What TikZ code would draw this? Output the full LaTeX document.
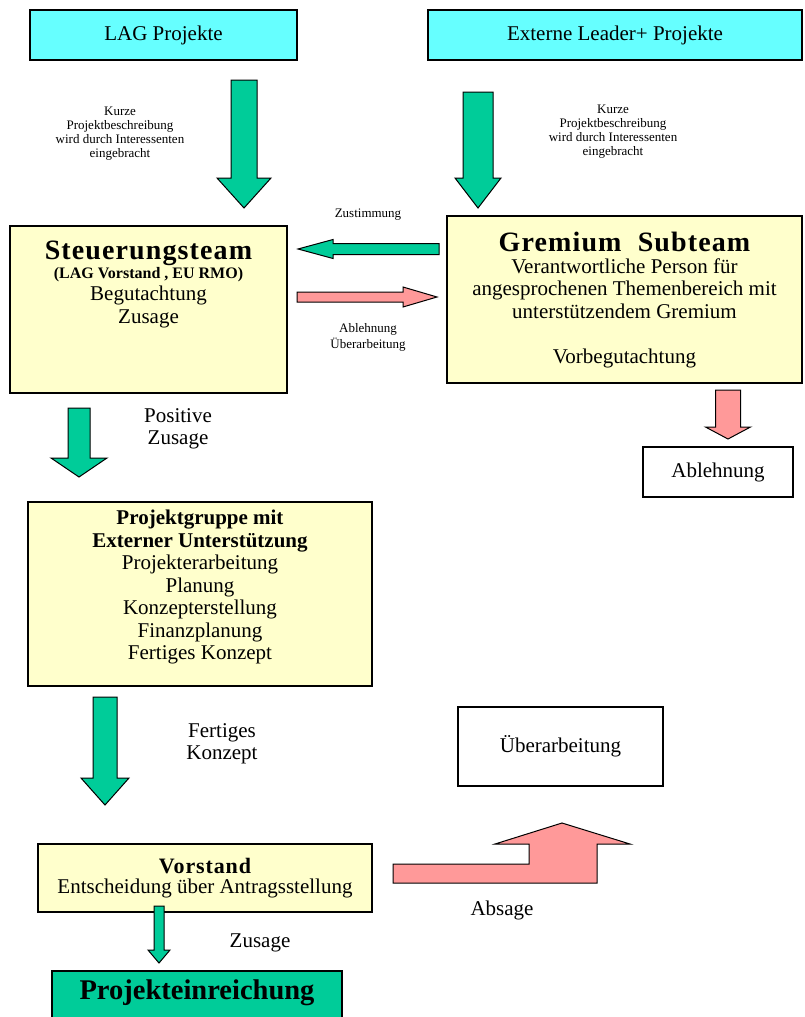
\documentclass[tikz,border=0pt]{standalone}
\usepackage{fontspec}
\setmainfont{Liberation Serif}
\usepackage{xcolor}
\usepackage{tikz}

\definecolor{lagcyan}{HTML}{66FFFF}
\definecolor{boxyellow}{HTML}{FFFFCC}
\definecolor{arrgreen}{HTML}{00CC99}
\definecolor{arrpink}{HTML}{FF9999}

\newcommand{\bodyfont}{\fontsize{21}{22.5}\selectfont}
\newcommand{\smallfont}{\fontsize{13}{14}\selectfont}
\newcommand{\headfont}{\fontsize{28}{30}\selectfont\bfseries\addfontfeature{LetterSpace=4}}

% block arrows: colour, centre, start, head base, tip, shaft half width, head half width
\newcommand{\vblock}[7]{\filldraw[fill=#1, draw=black, line width=1pt] (#2-#6,#3) -- (#2+#6,#3) -- (#2+#6,#4) -- (#2+#7,#4) -- (#2,#5) -- (#2-#7,#4) -- (#2-#6,#4) -- cycle;}
\newcommand{\hblock}[7]{\filldraw[fill=#1, draw=black, line width=1pt] (#3,#2-#6) -- (#4,#2-#6) -- (#4,#2-#7) -- (#5,#2) -- (#4,#2+#7) -- (#4,#2+#6) -- (#3,#2+#6) -- cycle;}

\begin{document}
\begin{tikzpicture}[
      x=1pt, y=-1pt,
      box/.style={draw, line width=1.2pt, inner sep=0pt, align=center, font=\bodyfont},
      txt/.style={inner sep=0pt, align=center, font=\bodyfont},
      note/.style={inner sep=0pt, align=center, font=\smallfont}
    ]
      \fill[white] (0,0) rectangle (804,1017);
      \useasboundingbox (0,0) rectangle (804,1017);

      % sources
      \node[box, fill=lagcyan, minimum width=267, minimum height=50] (lag) at (163.5,35) {LAG Projekte};
      \node[box, fill=lagcyan, minimum width=374, minimum height=50] (ext) at (615,35) {Externe Leader+ Projekte};
      \node[note] (kurzeL) at (120,134) {Kurze\\Projektbeschreibung\\wird durch Interessenten\\eingebracht};
      \node[note] (kurzeR) at (613,132) {Kurze\\Projektbeschreibung\\wird durch Interessenten\\eingebracht};
      \vblock{arrgreen}{244}{80}{178}{208}{13}{27}
      \vblock{arrgreen}{478}{92}{178}{208}{15}{23}

      % review
      \node[box, fill=boxyellow, minimum width=277, minimum height=167] (steuer) at (148.5,309.5) {};
      \node[txt, anchor=north] (steuertxt) at (148.5,241) {{\headfont Steuerungsteam}\\[-4pt]{\fontsize{16}{18}\selectfont\bfseries (LAG Vorstand , EU RMO)}\\Begutachtung\\Zusage};
      \node[box, fill=boxyellow, minimum width=355, minimum height=167] (gremium) at (624.5,299.5) {};
      \node[txt, anchor=north] (gremiumtxt) at (624.5,232) {{\headfont Gremium\ \ Subteam}\\[-1pt]Verantwortliche Person für\\angesprochenen Themenbereich mit\\unterstützendem Gremium\\[23pt]Vorbegutachtung};
      \hblock{arrgreen}{249}{439}{333}{298}{5.5}{9.5}
      \hblock{arrpink}{297}{297}{403}{437}{5}{10}
      \node[note] (zust) at (368,215) {Zustimmung};
      \node[note] (ablueb) at (368,337) {Ablehnung\\[2pt]Überarbeitung};
      \vblock{arrpink}{728}{390}{427}{439}{12.5}{22.5}
      \node[box, minimum width=150, minimum height=50] (ablehnung) at (718,472) {Ablehnung};

      % project work
      \vblock{arrgreen}{79}{408}{458}{477}{11}{28}
      \node[txt] (posz) at (178,429) {Positive\\Zusage};
      \node[box, fill=boxyellow, minimum width=344, minimum height=184] (gruppe) at (200,594) {};
      \node[txt, anchor=north] (gruppetxt) at (200,510) {\textbf{Projektgruppe mit}\\\textbf{Externer Unterstützung}\\Projekterarbeitung\\Planung\\Konzepterstellung\\Finanzplanung\\Fertiges Konzept};
      \vblock{arrgreen}{105}{697}{778}{805}{12}{24}
      \node[txt] (fertk) at (222,744) {Fertiges\\Konzept};
      \node[box, minimum width=205, minimum height=79] (ueber) at (560.5,746.5) {Überarbeitung};

      % decision
      \node[box, fill=boxyellow, minimum width=334, minimum height=68] (vorstand) at (205,878) {{\fontsize{22}{24}\selectfont\bfseries\addfontfeature{LetterSpace=4}Vorstand}\\[-3pt]Entscheidung über Antragsstellung};
      \filldraw[fill=arrpink, draw=black, line width=1pt] (393,864) -- (529,864) -- (529,844) -- (495,844) -- (562,823) -- (630,844) -- (597,844) -- (597,883) -- (393,883) -- cycle;
      \node[txt] (absage) at (502,910) {Absage};
      \vblock{arrgreen}{159}{906}{950}{963}{5}{11}
      \node[txt] (zusage) at (260,943) {Zusage};
      \node[box, fill=arrgreen, minimum width=290, minimum height=70] (einreich) at (197,1006) {};
      \node[txt, font=\fontsize{28.5}{30}\selectfont\bfseries] (einreichtxt) at (197,993) {Projekteinreichung};
    \end{tikzpicture}
\end{document}
